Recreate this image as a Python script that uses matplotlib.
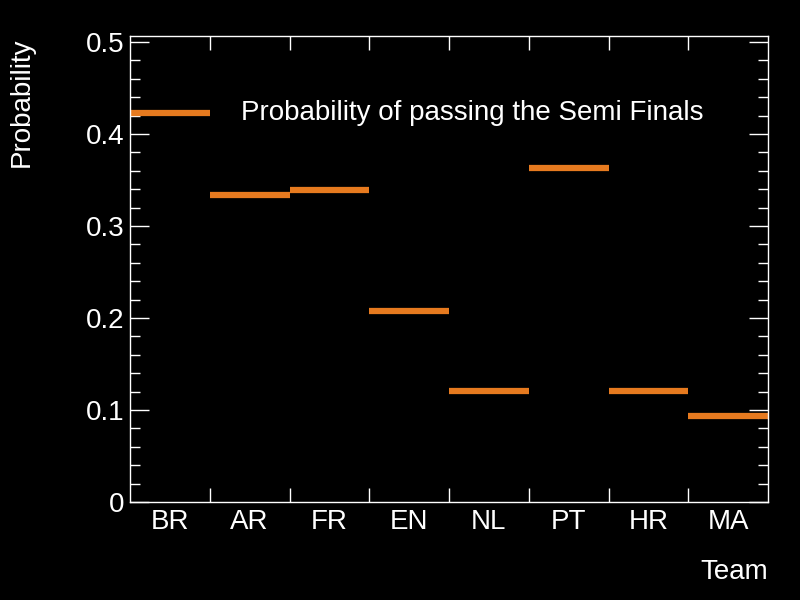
import numpy as np
from matplotlib import pyplot as plt
from matplotlib.ticker import MultipleLocator, FixedLocator, NullFormatter

teams = ["BR", "AR", "FR", "EN", "NL", "PT", "HR", "MA"]
prob_semi = [0.423, 0.334, 0.339, 0.208, 0.121, 0.363, 0.121, 0.094]
legend_label = "Probability of passing the Semi Finals"

plt.rcParams['font.family'] = ['Liberation Sans', 'DejaVu Sans']

fig = plt.figure(figsize=(8, 6), dpi=100, facecolor='black')
ax = fig.add_axes([0.1625, 0.1633, 0.7975, 0.7767], facecolor='black')

edges = np.arange(len(teams) + 1)
ax.hlines(prob_semi, edges[:-1], edges[1:], colors='#e67a1f', linewidth=4.5)

ax.set_xlim(0, len(teams))
ax.set_ylim(0, 0.5065)

for s in ax.spines.values():
    s.set_color('white')
    s.set_linewidth(1)

# x: ticks at bin edges, labels at bin centres
ax.xaxis.set_major_locator(FixedLocator(edges[1:-1]))
ax.xaxis.set_major_formatter(NullFormatter())
ax.xaxis.set_minor_locator(FixedLocator(edges[:-1] + 0.5))
ax.set_xticklabels(teams, minor=True)
ax.tick_params(axis='x', which='major', direction='in', length=10, width=1,
               color='white', top=True, bottom=True)
ax.tick_params(axis='x', which='minor', length=0, labelsize=20,
               labelcolor='white', pad=5)

ax.yaxis.set_major_locator(MultipleLocator(0.1))
ax.yaxis.set_minor_locator(MultipleLocator(0.02))
ax.yaxis.set_major_formatter(plt.FuncFormatter(lambda v, p: "0" if v == 0 else "%.1f" % v))
ax.tick_params(axis='y', which='major', direction='in', length=14, width=1,
               color='white', left=True, right=True, labelsize=20,
               labelcolor='white', pad=4)
ax.tick_params(axis='y', which='minor', direction='in', length=7, width=1,
               color='white', left=True, right=True)

ax.text(0.174, 0.834, legend_label, transform=ax.transAxes, color='white',
        fontsize=20, va='center', ha='left')

fig.text(0.027, 0.937, "Probability", rotation=90, color='white', fontsize=20,
         ha='center', va='top')
fig.text(0.96, 0.047, "Team", color='white', fontsize=20, ha='right', va='center')

fig.savefig("out.png", dpi=100, facecolor='black')
